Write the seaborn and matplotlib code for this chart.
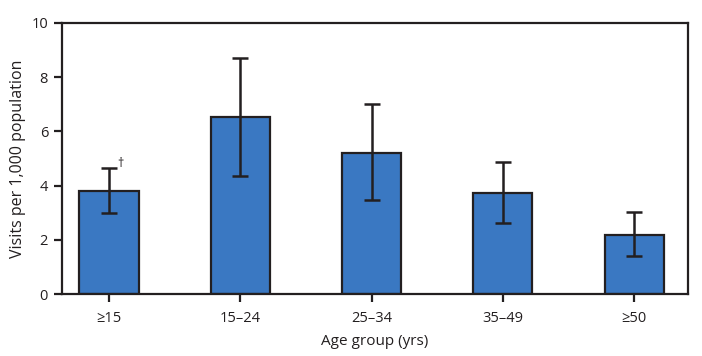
import matplotlib
matplotlib.use("Agg")
import matplotlib.pyplot as plt
import seaborn as sns
import pandas as pd
import numpy as np

age_groups = ["≥15", "15–24", "25–34", "35–49", "≥50"]
visits = [3.81, 6.54, 5.20, 3.73, 2.19]
ci_lower = [2.98, 4.37, 3.46, 2.61, 1.39]
ci_upper = [4.64, 8.70, 7.00, 4.86, 3.01]
footnote_marks = ["†", "", "", "", ""]
y_ticks = [0, 2, 4, 6, 8, 10]

sns.set_theme(style="white")
plt.rcParams["font.family"] = ["Open Sans", "DejaVu Sans"]

df = pd.DataFrame({"age": age_groups, "visits": visits})

fig = plt.figure(figsize=(7.02, 3.56), dpi=100)
ax = fig.add_axes([62 / 702, 1 - 294 / 356, (688 - 62) / 702, (294 - 23) / 356])

sns.barplot(data=df, x="age", y="visits", ax=ax, color="#3a78c2",
            saturation=1, width=0.45, edgecolor="#231f20", linewidth=1.6,
            errorbar=None, zorder=2)

xs = np.arange(len(age_groups))
v = np.array(visits)
yerr = np.vstack([v - np.array(ci_lower), np.array(ci_upper) - v])
ax.errorbar(xs, v, yerr=yerr, fmt="none", ecolor="#231f20", elinewidth=1.8,
            capsize=5.5, capthick=1.8, zorder=3)

for x, up, mark in zip(xs, ci_upper, footnote_marks):
    if mark:
        ax.annotate(mark, xy=(x, up), xytext=(6, -1), textcoords="offset points",
                    fontsize=9, color="#231f20", ha="left", va="bottom")

ax.set_xlim(-0.358, 4.41)
ax.set_ylim(0, 10)
ax.set_yticks(y_ticks)
ax.set_yticklabels([str(t) for t in y_ticks])

for s in ax.spines.values():
    s.set_visible(True)
    s.set_color("#231f20")
    s.set_linewidth(1.6)

ax.tick_params(axis="both", which="major", direction="out", length=6, width=1.6,
               color="#231f20", labelsize=10.5, labelcolor="#231f20",
               bottom=True, left=True, pad=4)
ax.tick_params(axis="x", pad=6)

ax.set_xlabel("Age group (yrs)", fontsize=11, color="#231f20", labelpad=6)
ax.set_ylabel("Visits per 1,000 population", fontsize=11.5, color="#231f20", labelpad=4)

fig.savefig("out.png", dpi=100)
